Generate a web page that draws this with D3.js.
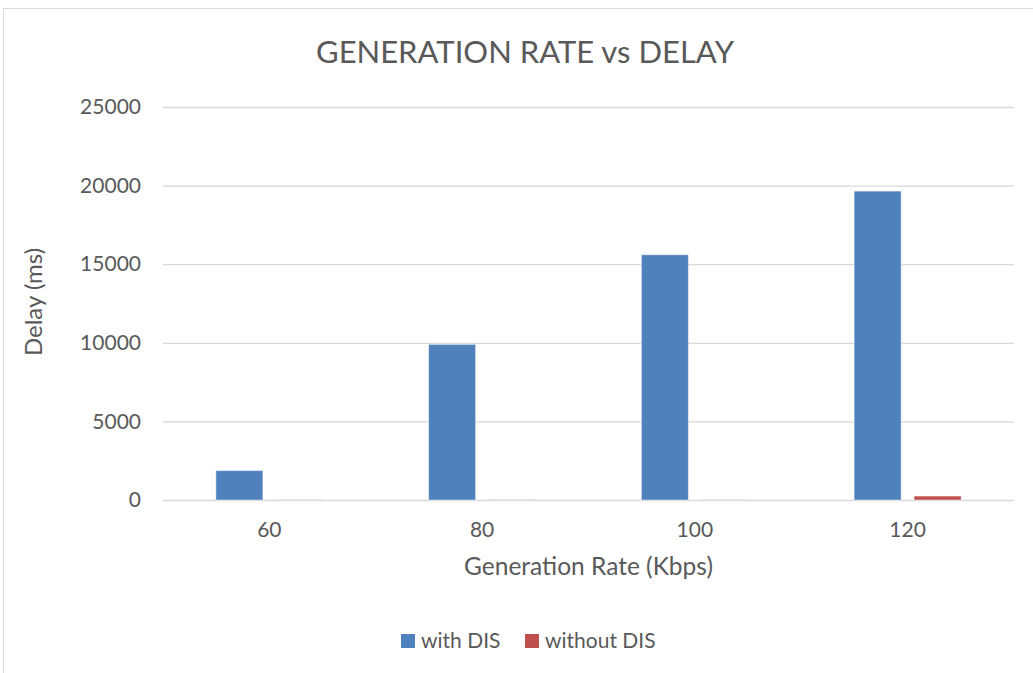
<!DOCTYPE html>
<html><head><meta charset="utf-8">
<script src="https://cdn.jsdelivr.net/npm/d3@7"></script>
<style>html,body{margin:0;padding:0;background:#fff;}svg{display:block;}</style>
</head><body>
<svg id="chart" width="1033" height="673"></svg>
<script>
const categories = ["60", "80", "100", "120"];
const seriesNames = ["with DIS", "without DIS"];
const withDIS = [1870, 9900, 15600, 19650];
const withoutDIS = [15, 15, 15, 250];
const yTicks = [0, 5000, 10000, 15000, 20000, 25000];
const colors = ["#4F81BD", "#C0504D"];
const titleText = "GENERATION RATE vs DELAY";
const xTitle = "Generation Rate (Kbps)";
const yTitle = "Delay (ms)";

const font = "Lato, 'Open Sans', sans-serif";
const textColor = "#595959";
const svg = d3.select("#chart");

// chart border
svg.append("rect").attr("x", 3.5).attr("y", 8.5).attr("width", 1060).attr("height", 700)
  .attr("fill", "none").attr("stroke", "#D9D9D9").attr("stroke-width", 1);

const pLeft = 163, pRight = 1014, pTop = 107, pBottom = 500;
const x0 = d3.scaleBand().domain(categories).range([pLeft, pRight]).paddingInner(0).paddingOuter(0);
const bw = x0.bandwidth();
const x1 = d3.scaleBand().domain(seriesNames).range([bw/2 - 53.5, bw/2 + 53.5]).paddingInner(0.2167).paddingOuter(0);
const y = d3.scaleLinear().domain([0, 25000]).range([pBottom, pTop]);

// gridlines + y labels
const yAxis = d3.axisLeft(y).tickValues(yTicks).tickSize(-(pRight - pLeft)).tickPadding(22).tickFormat(d3.format("d"));
const gy = svg.append("g").attr("transform", `translate(${pLeft},0)`).call(yAxis);
gy.select(".domain").remove();
gy.selectAll(".tick line").attr("stroke", "#D9D9D9").attr("stroke-width", 1.3);
gy.selectAll(".tick text").attr("fill", textColor).attr("font-family", font).attr("font-size", 21);

// x labels
const xAxis = d3.axisBottom(x0).tickSize(0).tickPadding(22);
const gx = svg.append("g").attr("transform", `translate(0,${pBottom})`).call(xAxis);
gx.select(".domain").remove();
gx.selectAll(".tick text").attr("fill", textColor).attr("font-family", font).attr("font-size", 21);

// bars
const data = categories.map((c, i) => ({cat: c, vals: [withDIS[i], withoutDIS[i]]}));
const groups = svg.append("g").selectAll("g").data(data).join("g")
  .attr("transform", d => `translate(${x0(d.cat)},0)`);
groups.selectAll("rect").data(d => d.vals.map((v, j) => ({s: seriesNames[j], v, j})))
  .join("rect")
  .attr("x", d => x1(d.s))
  .attr("width", x1.bandwidth())
  .attr("y", d => y(d.v))
  .attr("height", d => y(0) - y(d.v))
  .attr("fill", d => colors[d.j])
  .attr("stroke", "rgba(255,255,255,0.45)").attr("stroke-width", 1);

// title
svg.append("text").attr("x", 525).attr("y", 63).attr("text-anchor", "middle")
  .attr("font-family", font).attr("font-size", 31).attr("fill", textColor).text(titleText);

// axis titles
svg.append("text").attr("x", (pLeft + pRight) / 2).attr("y", 575).attr("text-anchor", "middle")
  .attr("font-family", font).attr("font-size", 24.5).attr("fill", textColor).text(xTitle);
svg.append("text").attr("transform", "translate(42,302) rotate(-90)").attr("text-anchor", "middle")
  .attr("font-family", font).attr("font-size", 24).attr("fill", textColor).text(yTitle);

// legend
const legend = svg.append("g");
const legX = [401, 525];
seriesNames.forEach((s, i) => {
  legend.append("rect").attr("x", legX[i]).attr("y", 634).attr("width", 14).attr("height", 14).attr("fill", colors[i]);
  legend.append("text").attr("x", legX[i] + 20).attr("y", 648).attr("font-family", font).attr("font-size", 21)
    .attr("fill", textColor).text(s);
});
</script>
</body></html>
